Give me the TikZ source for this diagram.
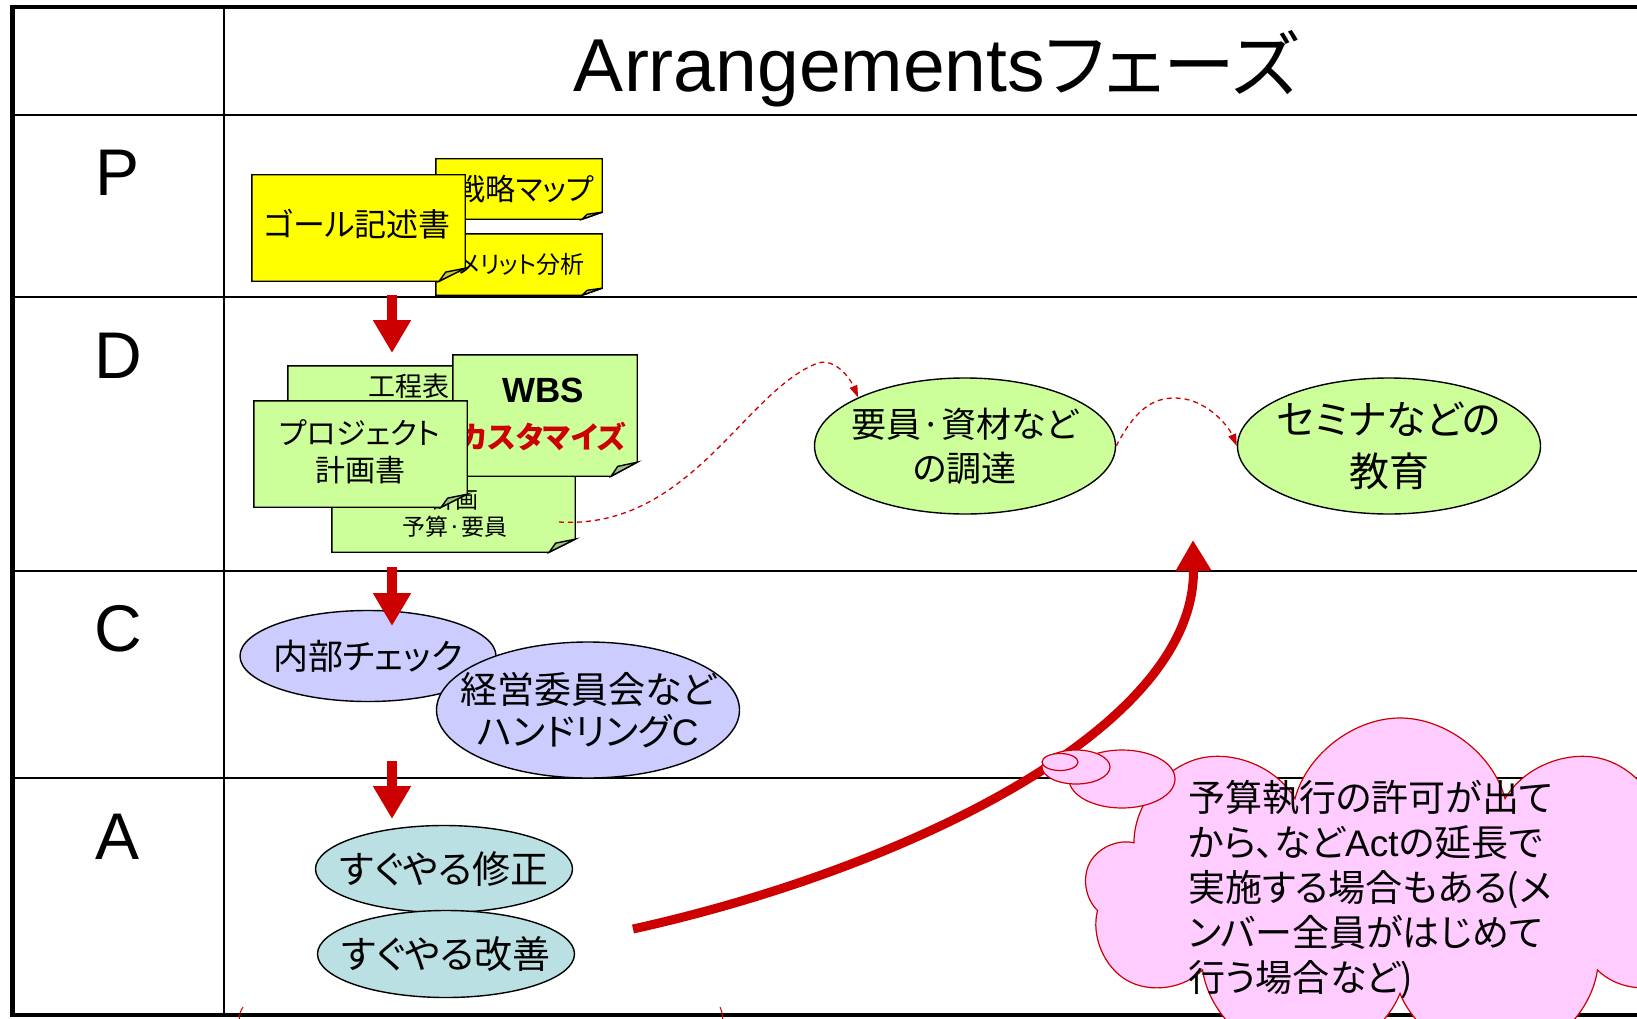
\documentclass[tikz,border=0pt]{standalone}
\usepackage{fontspec}
\setmainfont{Liberation Sans}
\newfontfamily\jpfont[RawFeature=+palt]{Noto Sans CJK JP}
\usepackage{tikz}
\usetikzlibrary{arrows.meta}
\usetikzlibrary{shapes.geometric}
\usetikzlibrary{shapes.symbols}
\definecolor{rr}{RGB}{204, 0, 0}
\definecolor{noteyel}{RGB}{255, 255, 0}
\definecolor{foldyel}{RGB}{200, 200, 60}
\definecolor{notegrn}{RGB}{204, 255, 153}
\definecolor{foldgrn}{RGB}{160, 195, 130}
\definecolor{lavc}{RGB}{204, 204, 255}
\definecolor{tealc}{RGB}{187, 224, 227}
\definecolor{pinkc}{RGB}{255, 204, 255}
\newcommand{\setfs}[2]{\fontsize{#1pt}{#2pt}\selectfont}
% sticky note body with folded corner, drawn over an empty node
\newcommand{\stickynote}[5]{%
  \filldraw[notedge, fill=#2] (#1.north west) -- (#1.north east) -- ([yshift=#5]#1.south east) -- ([xshift=-#4]#1.south east) -- (#1.south west) -- cycle;
  \filldraw[notedge, fill=#3] ([xshift=-#4]#1.south east) -- ([yshift=#5]#1.south east) -- ([xshift=-0.75*#4, yshift=0.7*#5]#1.south east) -- cycle;
}

\begin{document}
\begin{tikzpicture}[
  tblouter/.style={line width=4.5pt, black},
  tblline/.style={line width=2.2pt, black},
  notebox/.style={rectangle, inner sep=0pt},
  notedge/.style={draw=black, line width=1.4pt},
  jtext/.style={inner sep=0pt, align=center},
  ovalnode/.style={ellipse, draw=black, line width=1.4pt, inner xsep=-40pt, inner ysep=-20pt, align=center},
  blockarrow/.style={draw=rr, line width=10pt, -{Triangle[length=33pt,width=36pt]}},
  bigarrow/.style={draw=rr, line width=9pt, -{Triangle[length=31pt,width=34pt]}},
  dashlink/.style={draw=rr, line width=1.3pt, dash pattern=on 5pt off 4pt, -{Triangle[length=12pt,width=8pt]}},
  thought/.style={ellipse, draw=rr, fill=pinkc, line width=1.2pt, inner sep=0pt}
]
\useasboundingbox (0pt, 0pt) rectangle (1637pt, -1019pt);

% table
\draw [tblouter] (1660pt, -7pt) -- (12.5pt, -7pt) -- (12.5pt, -1015pt) -- (1660pt, -1015pt);
\foreach \y in {115, 297, 571, 778}
  \draw [tblline] (12.5pt, -\y pt) -- (1660pt, -\y pt);
\draw [tblline] (224pt, -7pt) -- (224pt, -1015pt);

\node (title) [inner sep=0pt, anchor=base, font=\setfs{75}{80}] at (936pt, -92pt) {Arrangements{\jpfont\setfs{72}{80}フェーズ}};
\node (rowP) [inner sep=0pt, anchor=base, font=\setfs{66}{70}] at (118pt, -196pt) {P};
\node (rowD) [inner sep=0pt, anchor=base, font=\setfs{66}{70}] at (118pt, -378pt) {D};
\node (rowC) [inner sep=0pt, anchor=base, font=\setfs{66}{70}] at (118pt, -651pt) {C};
\node (rowA) [inner sep=0pt, anchor=base, font=\setfs{66}{70}] at (118pt, -859pt) {A};

% P
\node (senryaku) [notebox, minimum width=166pt, minimum height=60pt] at (519pt, -189pt) {};
\stickynote{senryaku}{noteyel}{foldyel}{20pt}{7pt}
\node (senryakutxt) [jtext, anchor=east, font=\jpfont\setfs{30}{34}] at (594pt, -189pt) {戦略マップ};
\node (merit) [notebox, minimum width=166pt, minimum height=61pt] at (519pt, -264.5pt) {};
\stickynote{merit}{noteyel}{foldyel}{20pt}{7pt}
\node (merittxt) [jtext, anchor=east, font=\jpfont\setfs{24}{28}] at (585pt, -264pt) {メリット分析};
\node (goal) [notebox, minimum width=213pt, minimum height=106pt] at (358.5pt, -228pt) {};
\stickynote{goal}{noteyel}{foldyel}{26pt}{13pt}
\node (goaltxt) [jtext, font=\jpfont\setfs{32}{36}] at (357pt, -224pt) {ゴール記述書};

\coordinate (a1s) at (392pt, -295pt);
\coordinate (a1e) at (392pt, -353pt);
\draw [blockarrow] (a1s) -- (a1e);

% D
\node (kotei) [notebox, minimum width=232pt, minimum height=104pt] at (404pt, -418pt) {};
\stickynote{kotei}{notegrn}{foldgrn}{26pt}{13pt}
\node (koteitxt) [jtext, font=\jpfont\setfs{27}{30}] at (409pt, -386pt) {工程表};
\node (yosan) [notebox, minimum width=243pt, minimum height=122pt] at (453.5pt, -491pt) {};
\stickynote{yosan}{notegrn}{foldgrn}{26pt}{13pt}
\node (yosantxt) [jtext, font=\jpfont\setfs{23}{27}] at (455pt, -513pt) {計画\\予算·要員};
\node (wbs) [notebox, minimum width=184pt, minimum height=121pt] at (545pt, -415.5pt) {};
\stickynote{wbs}{notegrn}{foldgrn}{26pt}{14pt}
\node (wbstxt) [jtext, font=\bfseries\setfs{35}{38}] at (543pt, -390pt) {WBS};
\node (custom) [jtext, text=rr, font=\jpfont\bfseries\setfs{30}{34}] at (543pt, -437pt) {カスタマイズ};
\node (project) [notebox, minimum width=213pt, minimum height=106pt] at (360.5pt, -454pt) {};
\stickynote{project}{notegrn}{foldgrn}{26pt}{13pt}
\node (projecttxt) [jtext, font=\jpfont\setfs{30}{37}] at (360pt, -452pt) {プロジェクト\\計画書};

\node (chotatsu) [ovalnode, fill=notegrn, minimum width=301pt, minimum height=136pt, font=\jpfont\setfs{35}{44}] at (965pt, -446pt) {要員·資材など\\の調達};
\node (kyoiku) [ovalnode, fill=notegrn, minimum width=303pt, minimum height=136pt, font=\jpfont\setfs{40}{52}] at (1389pt, -446pt) {セミナなどの\\教育};
\coordinate (d1s) at (559pt, -522pt);
\draw [dashlink] (d1s) .. controls (690pt, -530pt) and (745pt, -390pt) .. (818pt, -363pt) .. controls (835pt, -358pt) and (850pt, -378pt) .. (chotatsu.north west);
\draw [dashlink] (chotatsu.east) .. controls (1135pt, -410pt) and (1152pt, -398pt) .. (1175pt, -398pt) .. controls (1205pt, -398pt) and (1228pt, -425pt) .. (kyoiku.west);

% C
\node (naibu) [ovalnode, fill=lavc, minimum width=256pt, minimum height=91pt, font=\jpfont\setfs{35}{38}] at (368pt, -656pt) {内部チェック};
\node (keiei) [ovalnode, fill=lavc, minimum width=303pt, minimum height=136pt, font=\jpfont\setfs{37}{42}] at (588pt, -710pt) {経営委員会など\\ハンドリング{\rmfamily C}};
\coordinate (a2s) at (392pt, -567pt);
\coordinate (a2e) at (392pt, -626pt);
\draw [blockarrow] (a2s) -- (a2e);

% A
\node (shusei) [ovalnode, fill=tealc, minimum width=257pt, minimum height=87pt, font=\jpfont\setfs{38}{40}] at (444pt, -869pt) {すぐやる修正};
\node (kaizen) [ovalnode, fill=tealc, minimum width=257pt, minimum height=87pt, font=\jpfont\setfs{38}{40}] at (446pt, -954pt) {すぐやる改善};
\coordinate (a3s) at (392pt, -761pt);
\coordinate (a3e) at (392pt, -819pt);
\draw [blockarrow] (a3s) -- (a3e);

\coordinate (bigs) at (633pt, -929pt);
\coordinate (bige) at (1193pt, -540pt);
\draw [bigarrow] (bigs) .. controls (900pt, -870pt) and (1196pt, -730pt) .. (bige);

% cloud note
\node (cloudbody) [cloud, cloud puffs=9, cloud ignores aspect, draw=rr, fill=pinkc, line width=1.2pt, minimum width=630pt, minimum height=350pt] at (1400pt, -893pt) {};
\node (bub3) [thought, minimum width=106pt, minimum height=58pt] at (1122pt, -779pt) {};
\node (bub2) [thought, minimum width=68pt, minimum height=34pt] at (1076pt, -767pt) {};
\node (bub1) [thought, minimum width=36pt, minimum height=17pt] at (1060pt, -762pt) {};
\node (cloudtxt) [jtext, align=left, anchor=west, font=\jpfont\setfs{37}{45}] at (1188pt, -889pt) {予算執行の許可が出て\\から、など{\rmfamily Act}の延長で\\実施する場合もある(メ\\ンバー全員がはじめて\\行う場合など)};

\draw [rr, line width=1pt] (243pt, -1007pt) .. controls (240pt, -1012pt) .. (239pt, -1021pt);
\draw [rr, line width=1pt] (720pt, -1007pt) .. controls (722pt, -1012pt) .. (723pt, -1021pt);
\end{tikzpicture}
\end{document}
